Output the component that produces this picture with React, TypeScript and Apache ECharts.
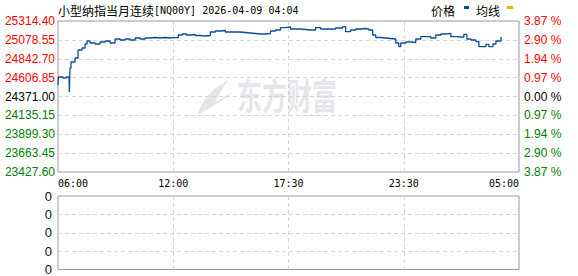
import React, { useEffect, useRef } from 'react';
import * as echarts from 'echarts';

const titleName = '小型纳指当月连续';
const titleCode = '[NQ00Y]';
const titleStamp = '2026-04-09 04:04';
const prevClose = 24371.0;
const priceStep = 235.85;
const xTickLabels = ['06:00', '12:00', '17:30', '23:30', '05:00'];
const volumeTickLabels = ['0', '0', '0', '0', '0'];
const legendNames = ['价格', '均线'];

// minute offsets from 06:00 (axis spans 1380 units)
const minutes = [
  0, 1, 15, 24, 33, 34, 36, 39, 42, 51, 60, 72, 81, 87, 96, 111, 126, 141, 156, 171,
  186, 201, 216, 231, 246, 261, 276, 291, 306, 321, 336, 351, 360, 372, 384, 396, 411, 426, 441, 456,
  471, 486, 501, 516, 531, 546, 561, 576, 591, 606, 621, 636, 651, 666, 681, 696, 711, 726, 741, 756,
  771, 786, 801, 816, 831, 846, 852, 861, 876, 891, 906, 921, 930, 942, 951, 966, 981, 996, 1011, 1020,
  1026, 1041, 1056, 1071, 1086, 1101, 1116, 1131, 1146, 1161, 1176, 1191, 1206, 1215, 1224, 1236, 1251, 1260, 1266, 1281,
  1290, 1302, 1311, 1320, 1326,
];
const prices = [
  24514.7, 24614.7, 24602.2, 24614.7, 24602.2, 24427.3, 24727.1, 24802.1, 24802.1, 24852.1,
  24952.0, 24977.0, 25027.0, 25064.5, 25039.5, 25027.0, 25052.0, 25064.5, 25039.5, 25089.5,
  25077.0, 25089.5, 25077.0, 25102.0, 25089.5, 25102.0, 25108.2, 25102.0, 25108.2, 25102.0,
  25105.7, 25105.7, 25139.5, 25152.0, 25139.5, 25145.7, 25133.2, 25127.0, 25133.2, 25177.0,
  25189.4, 25195.7, 25177.0, 25177.0, 25177.0, 25170.7, 25164.5, 25158.2, 25152.0, 25152.0,
  25158.2, 25189.4, 25201.9, 25230.7, 25239.4, 25214.4, 25214.4, 25208.2, 25201.9, 25201.9,
  25230.7, 25214.4, 25214.4, 25214.4, 25226.9, 25226.9, 25243.2, 25180.7, 25201.9, 25214.4,
  25220.7, 25214.4, 25201.9, 25139.5, 25108.2, 25102.0, 25095.7, 25089.5, 25039.5, 24993.3,
  25039.5, 25052.0, 25045.8, 25089.5, 25118.2, 25118.2, 25102.0, 25139.5, 25152.0, 25160.7,
  25118.2, 25114.5, 25114.5, 25148.2, 25089.5, 25077.0, 25055.8, 24993.3, 24993.3, 25023.3,
  24993.3, 25027.0, 25064.5, 25064.5, 25114.5,
];

const RED = '#ff0000';
const GREEN = '#008000';
const LINE_BLUE = '#0a4d9c';
const AVG_GOLD = '#e8b10e';

const cents = (v: number) => Math.round(v * 100);

const dashed = { color: '#d4d4d4', type: [4, 3] as any, width: 1 };

export default function App() {
  const ref = useRef<HTMLDivElement>(null);
  useEffect(() => {
    if (!ref.current) return;
    const chart = echarts.init(ref.current, null, { renderer: 'svg' });
    const stepC = cents(priceStep);
    const labelRich = {
      up: { color: RED, fontFamily: 'Liberation Sans', fontSize: 12 },
      flat: { color: '#000', fontFamily: 'Liberation Sans', fontSize: 12 },
      down: { color: GREEN, fontFamily: 'Liberation Sans', fontSize: 12 },
    };
    const cls = (v: number) => (v > 0 ? 'up' : v < 0 ? 'down' : 'flat');
    const logoD =
      'M2 35 C6 22 14 10 31 1 C25 9 21 16 19 23 C23 19 28 16 35 13 C27 20 15 28 2 35 Z';
    echarts.graphic.registerShape('logo', (echarts.graphic as any).extendPath(logoD, {}));

    chart.setOption({
      animation: false,
      backgroundColor: '#fff',
      grid: [
        { left: 58, top: 21, width: 461, height: 151, show: true, borderColor: '#999', borderWidth: 1, backgroundColor: 'transparent' },
        { left: 58, top: 196, width: 461, height: 74, show: true, borderColor: '#999', borderWidth: 1, backgroundColor: 'transparent' },
      ],
      xAxis: [
        {
          type: 'value', gridIndex: 0, min: 0, max: 1380, interval: 345,
          axisLine: { show: false }, axisTick: { show: false },
          splitLine: { show: true, lineStyle: dashed, showMinLine: false, showMaxLine: false },
          axisLabel: {
            formatter: (v: number) => xTickLabels[Math.round(v / 345)] ?? '',
            color: '#000', fontFamily: 'DejaVu Sans Mono', fontSize: 10, margin: 6,
            alignMinLabel: 'left', alignMaxLabel: 'right',
          },
        },
        {
          type: 'value', gridIndex: 1, min: 0, max: 1380, interval: 345,
          axisLine: { show: false }, axisTick: { show: false }, axisLabel: { show: false },
          splitLine: { show: true, lineStyle: dashed, showMinLine: false, showMaxLine: false },
        },
      ],
      yAxis: [
        {
          type: 'value', gridIndex: 0, position: 'left',
          min: -4 * stepC, max: 4 * stepC, interval: stepC,
          axisLine: { show: false }, axisTick: { show: false },
          splitLine: { show: true, lineStyle: dashed, showMinLine: false, showMaxLine: false },
          axisLabel: {
            margin: 3,
            formatter: (v: number) => `{${cls(v)}|${((cents(prevClose) + v) / 100).toFixed(2)}}`,
            rich: labelRich,
          },
        },
        {
          type: 'value', gridIndex: 0, position: 'right',
          min: -4 * stepC, max: 4 * stepC, interval: stepC,
          axisLine: { show: false }, axisTick: { show: false }, splitLine: { show: false },
          axisLabel: {
            margin: 5,
            formatter: (v: number) => `{${cls(v)}|${Math.abs(v / cents(prevClose) * 100).toFixed(2)} %}`,
            rich: labelRich,
          },
        },
        {
          type: 'value', gridIndex: 1, min: 0, max: 4, interval: 1,
          axisLine: { show: false }, axisTick: { show: false },
          splitLine: { show: true, lineStyle: dashed, showMinLine: false, showMaxLine: false },
          axisLabel: {
            margin: 6,
            formatter: (v: number) => volumeTickLabels[Math.round(v)] ?? '',
            color: '#001030', fontFamily: 'Liberation Sans', fontSize: 13,
          },
        },
      ],
      graphic: [
        {
          type: 'logo', x: 195, y: 79, scaleX: 1.08, scaleY: 1.03, z: 0,
          style: { fill: '#e6e6ea' },
        },
        {
          type: 'text', x: 237, y: 76, scaleX: 1.0, scaleY: 1.45, z: 0,
          style: {
            text: '东方财富', fontSize: 25, fontWeight: 'bold', fill: '#e6e6ea',
            fontFamily: 'Noto Sans CJK SC', verticalAlign: 'top', align: 'left',
          },
        },
        {
          type: 'text', x: 58, y: 10,
          style: {
            text: `{a|${titleName}}{b|${titleCode} ${titleStamp}}`,
            verticalAlign: 'middle', align: 'left',
            rich: {
              a: { fontFamily: 'Noto Sans CJK SC', fontSize: 12, fill: '#000' },
              b: { fontFamily: 'DejaVu Sans Mono', fontSize: 10, fill: '#000' },
            },
          },
        },
        {
          type: 'text', x: 431, y: 10,
          style: { text: legendNames[0], fontFamily: 'Noto Sans CJK SC', fontSize: 12, fill: '#000', verticalAlign: 'middle' },
        },
        { type: 'rect', shape: { x: 464, y: 6, width: 5, height: 3 }, style: { fill: LINE_BLUE } },
        {
          type: 'text', x: 476, y: 10,
          style: { text: legendNames[1], fontFamily: 'Noto Sans CJK SC', fontSize: 12, fill: '#000', verticalAlign: 'middle' },
        },
        { type: 'rect', shape: { x: 507, y: 6, width: 6, height: 3 }, style: { fill: AVG_GOLD } },
      ],
      series: [
        {
          name: legendNames[0], type: 'line', xAxisIndex: 0, yAxisIndex: 0,
          data: minutes.map((m, i) => [m, cents(prices[i]) - cents(prevClose)]),
          showSymbol: false, symbol: 'none', step: 'end',
          lineStyle: { color: LINE_BLUE, width: 1.3 }, itemStyle: { color: LINE_BLUE },
          z: 3,
        },
      ],
    });
    return () => chart.dispose();
  }, []);
  return (
    <div
      ref={ref}
      style={{ position: 'fixed', left: 0, top: 0, width: 578, height: 276, background: '#fff' }}
    />
  );
}
